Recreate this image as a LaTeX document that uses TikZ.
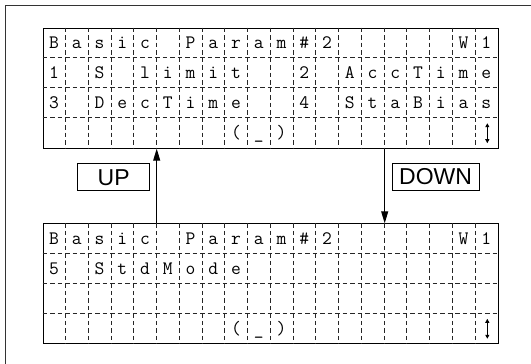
\documentclass[tikz,border=0pt]{standalone}
\usepackage{fontspec}
\usepackage{tikz}
\usetikzlibrary{calc,arrows.meta}
\newfontfamily\keyfont{Liberation Sans}
\newcommand{\cellw}{22.75}
\newcommand{\cellh}{30}

\begin{document}
\begin{tikzpicture}[x=1pt, y=-1pt,
    frame/.style={draw=black!80, line width=1.3pt},
    lcd/.style={draw, line width=1pt, minimum width=455pt, minimum height=120pt, inner sep=0pt},
    cell/.style={black!85, line width=0.8pt, dash pattern=on 4.5pt off 3pt},
    glyph/.style={anchor=base, inner sep=0pt, font=\ttfamily\fontsize{19}{19}\selectfont},
    key/.style={draw, line width=0.8pt, minimum height=27pt, inner sep=0pt, font=\keyfont\fontsize{23}{23}\selectfont},
    flow/.style={line width=1pt, -{Triangle[length=12pt, width=7pt]}},
    updn/.style={line width=1pt, {Triangle[length=4pt, width=4pt]}-{Triangle[length=4pt, width=4pt]}}]

    % Page
    \clip (0,0) rectangle (531,364);
    \draw[frame] (5.5,5.5) rectangle (560,390);

    % Screens
    \node[lcd, anchor=north west] (scrtop) at (42.7,27.7) {};
    \node[lcd, anchor=north west] (scrbot) at (42.7,223.3) {};

    % Character cells
    \foreach \s in {scrtop, scrbot} {
        \foreach \i in {1,...,19}
            \draw[cell] ($(\s.north west)+(\i*\cellw,0)$) -- ($(\s.south west)+(\i*\cellw,0)$);
        \foreach \j in {1,2,3}
            \draw[cell] ($(\s.north west)+(0,\j*\cellh)$) -- ($(\s.north east)+(0,\j*\cellh)$);
    }

    % Title line (both screens)
    \foreach \s in {scrtop, scrbot} {
        \foreach \c/\ch in {0/B,1/a,2/s,3/i,4/c,6/P,7/a,8/r,9/a,10/m,11/\#,12/2,18/W,19/1}
            \node[glyph] (\s-a\c) at ($(\s.north west)+(\c*\cellw+0.5*\cellw,21)$) {\ch};
    }

    % Top screen, parameter lines
    \foreach \c/\ch in {0/1,2/S,4/l,5/i,6/m,7/i,8/t,11/2,13/A,14/c,15/c,16/T,17/i,18/m,19/e}
        \node[glyph] (scrtop-b\c) at ($(scrtop.north west)+(\c*\cellw+0.5*\cellw,\cellh+21)$) {\ch};
    \foreach \c/\ch in {0/3,2/D,3/e,4/c,5/T,6/i,7/m,8/e,11/4,13/S,14/t,15/a,16/B,17/i,18/a,19/s}
        \node[glyph] (scrtop-c\c) at ($(scrtop.north west)+(\c*\cellw+0.5*\cellw,2*\cellh+21)$) {\ch};

    % Bottom screen, parameter line
    \foreach \c/\ch in {0/5,2/S,3/t,4/d,5/M,6/o,7/d,8/e}
        \node[glyph] (scrbot-b\c) at ($(scrbot.north west)+(\c*\cellw+0.5*\cellw,\cellh+21)$) {\ch};

    % Status line (both screens)
    \foreach \s in {scrtop, scrbot} {
        \foreach \c/\ch in {8/(,9/\_,10/)}
            \node[glyph] (\s-d\c) at ($(\s.north west)+(\c*\cellw+0.5*\cellw,3*\cellh+21)$) {\ch};
        \draw[updn] ($(\s.south east)+(-0.5*\cellw,-25.5)$) -- ($(\s.south east)+(-0.5*\cellw,-5.5)$);
    }

    % Keys
    \node[key, minimum width=72pt, anchor=north west] (upkey) at (77.3,163.3) {UP};
    \node[key, minimum width=87pt, anchor=north west] (downkey) at (391.7,162.7) {DOWN};

    % Navigation
    \draw[flow] ($(scrbot.north west)!0.25!(scrbot.north east)$) -- ($(scrtop.south west)!0.25!(scrtop.south east)$);
    \draw[flow] ($(scrtop.south west)!0.75!(scrtop.south east)$) -- ($(scrbot.north west)!0.75!(scrbot.north east)$);

\end{tikzpicture}
\end{document}
